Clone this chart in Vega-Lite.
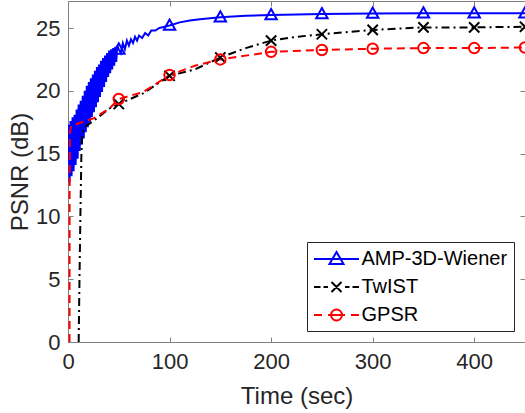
{
  "$schema": "https://vega.github.io/schema/vega-lite/v6.json",
  "width": 457,
  "height": 341,
  "autosize": {"type": "none"},
  "padding": {"left": 68, "top": 1, "right": 0, "bottom": 71},
  "background": "#ffffff",
  "config": {
    "view": {"stroke": null},
    "font": "Liberation Sans",
    "axis": {
      "grid": false,
      "domainColor": "#808080",
      "domainWidth": 1,
      "tickColor": "#808080",
      "tickSize": -5,
      "tickWidth": 1,
      "labelFont": "Liberation Sans",
      "labelFontSize": 22,
      "labelColor": "#262626",
      "labelFlush": false,
      "titleFont": "Liberation Sans",
      "titleFontSize": 24,
      "titleFontWeight": "normal",
      "titleColor": "#262626"
    }
  },
  "datasets": {
    "lines": [
      {"s": "AMP-3D-Wiener", "t": 0.5, "v": 17.3},
      {"s": "AMP-3D-Wiener", "t": 1.5, "v": 12.7},
      {"s": "AMP-3D-Wiener", "t": 2.5, "v": 17.6},
      {"s": "AMP-3D-Wiener", "t": 3.5, "v": 13.2},
      {"s": "AMP-3D-Wiener", "t": 4.5, "v": 17.9},
      {"s": "AMP-3D-Wiener", "t": 5.5, "v": 13.6},
      {"s": "AMP-3D-Wiener", "t": 6.5, "v": 18.1},
      {"s": "AMP-3D-Wiener", "t": 7.5, "v": 14.1},
      {"s": "AMP-3D-Wiener", "t": 8.5, "v": 18.5},
      {"s": "AMP-3D-Wiener", "t": 9.5, "v": 14.6},
      {"s": "AMP-3D-Wiener", "t": 10.5, "v": 18.9},
      {"s": "AMP-3D-Wiener", "t": 11.5, "v": 15.2},
      {"s": "AMP-3D-Wiener", "t": 12.5, "v": 19.2},
      {"s": "AMP-3D-Wiener", "t": 13.5, "v": 15.7},
      {"s": "AMP-3D-Wiener", "t": 14.5, "v": 19.6},
      {"s": "AMP-3D-Wiener", "t": 15.5, "v": 16.2},
      {"s": "AMP-3D-Wiener", "t": 16.5, "v": 20.0},
      {"s": "AMP-3D-Wiener", "t": 17.5, "v": 16.7},
      {"s": "AMP-3D-Wiener", "t": 18.5, "v": 20.4},
      {"s": "AMP-3D-Wiener", "t": 19.5, "v": 17.1},
      {"s": "AMP-3D-Wiener", "t": 20.5, "v": 20.7},
      {"s": "AMP-3D-Wiener", "t": 21.5, "v": 17.5},
      {"s": "AMP-3D-Wiener", "t": 22.5, "v": 21.0},
      {"s": "AMP-3D-Wiener", "t": 23.5, "v": 17.9},
      {"s": "AMP-3D-Wiener", "t": 24.5, "v": 21.3},
      {"s": "AMP-3D-Wiener", "t": 25.5, "v": 18.3},
      {"s": "AMP-3D-Wiener", "t": 26.5, "v": 21.6},
      {"s": "AMP-3D-Wiener", "t": 27.5, "v": 18.7},
      {"s": "AMP-3D-Wiener", "t": 28.5, "v": 21.9},
      {"s": "AMP-3D-Wiener", "t": 29.5, "v": 19.1},
      {"s": "AMP-3D-Wiener", "t": 30.5, "v": 22.1},
      {"s": "AMP-3D-Wiener", "t": 31.5, "v": 19.5},
      {"s": "AMP-3D-Wiener", "t": 32.5, "v": 22.4},
      {"s": "AMP-3D-Wiener", "t": 33.5, "v": 19.9},
      {"s": "AMP-3D-Wiener", "t": 34.5, "v": 22.6},
      {"s": "AMP-3D-Wiener", "t": 35.5, "v": 20.3},
      {"s": "AMP-3D-Wiener", "t": 36.5, "v": 22.8},
      {"s": "AMP-3D-Wiener", "t": 37.5, "v": 20.7},
      {"s": "AMP-3D-Wiener", "t": 38.5, "v": 23.0},
      {"s": "AMP-3D-Wiener", "t": 39.5, "v": 21.1},
      {"s": "AMP-3D-Wiener", "t": 40.5, "v": 23.2},
      {"s": "AMP-3D-Wiener", "t": 41.5, "v": 21.4},
      {"s": "AMP-3D-Wiener", "t": 42.5, "v": 23.3},
      {"s": "AMP-3D-Wiener", "t": 43.5, "v": 21.7},
      {"s": "AMP-3D-Wiener", "t": 44.5, "v": 23.4},
      {"s": "AMP-3D-Wiener", "t": 45.5, "v": 22.0},
      {"s": "AMP-3D-Wiener", "t": 46.5, "v": 23.5},
      {"s": "AMP-3D-Wiener", "t": 47.5, "v": 22.3},
      {"s": "AMP-3D-Wiener", "t": 48.5, "v": 23.6},
      {"s": "AMP-3D-Wiener", "t": 50, "v": 23.3},
      {"s": "AMP-3D-Wiener", "t": 52, "v": 23.0},
      {"s": "AMP-3D-Wiener", "t": 54, "v": 23.8},
      {"s": "AMP-3D-Wiener", "t": 56, "v": 23.3},
      {"s": "AMP-3D-Wiener", "t": 58, "v": 24.0},
      {"s": "AMP-3D-Wiener", "t": 60, "v": 23.6},
      {"s": "AMP-3D-Wiener", "t": 62, "v": 24.1},
      {"s": "AMP-3D-Wiener", "t": 64, "v": 23.8},
      {"s": "AMP-3D-Wiener", "t": 66, "v": 24.3},
      {"s": "AMP-3D-Wiener", "t": 68, "v": 24.0},
      {"s": "AMP-3D-Wiener", "t": 70, "v": 24.4},
      {"s": "AMP-3D-Wiener", "t": 73, "v": 24.2},
      {"s": "AMP-3D-Wiener", "t": 76, "v": 24.6},
      {"s": "AMP-3D-Wiener", "t": 79, "v": 24.4},
      {"s": "AMP-3D-Wiener", "t": 82, "v": 24.8},
      {"s": "AMP-3D-Wiener", "t": 86, "v": 24.8},
      {"s": "AMP-3D-Wiener", "t": 90, "v": 25.0},
      {"s": "AMP-3D-Wiener", "t": 95, "v": 25.1},
      {"s": "AMP-3D-Wiener", "t": 100, "v": 25.2},
      {"s": "AMP-3D-Wiener", "t": 110, "v": 25.45},
      {"s": "AMP-3D-Wiener", "t": 120, "v": 25.6},
      {"s": "AMP-3D-Wiener", "t": 130, "v": 25.7},
      {"s": "AMP-3D-Wiener", "t": 140, "v": 25.78},
      {"s": "AMP-3D-Wiener", "t": 150, "v": 25.85},
      {"s": "AMP-3D-Wiener", "t": 175, "v": 25.97},
      {"s": "AMP-3D-Wiener", "t": 200, "v": 26.04},
      {"s": "AMP-3D-Wiener", "t": 250, "v": 26.12},
      {"s": "AMP-3D-Wiener", "t": 300, "v": 26.15},
      {"s": "AMP-3D-Wiener", "t": 350, "v": 26.17},
      {"s": "AMP-3D-Wiener", "t": 400, "v": 26.18},
      {"s": "AMP-3D-Wiener", "t": 450, "v": 26.18},
      {"s": "TwIST", "t": 10.5, "v": 0},
      {"s": "TwIST", "t": 11.3, "v": 5},
      {"s": "TwIST", "t": 12.2, "v": 10},
      {"s": "TwIST", "t": 13.2, "v": 15},
      {"s": "TwIST", "t": 14, "v": 16.5},
      {"s": "TwIST", "t": 16, "v": 17.1},
      {"s": "TwIST", "t": 25, "v": 17.6},
      {"s": "TwIST", "t": 41, "v": 18.6},
      {"s": "TwIST", "t": 50, "v": 18.95},
      {"s": "TwIST", "t": 74, "v": 19.8},
      {"s": "TwIST", "t": 100, "v": 21.2},
      {"s": "TwIST", "t": 125, "v": 21.7},
      {"s": "TwIST", "t": 150, "v": 22.65},
      {"s": "TwIST", "t": 175, "v": 23.4},
      {"s": "TwIST", "t": 200, "v": 24.0},
      {"s": "TwIST", "t": 225, "v": 24.3},
      {"s": "TwIST", "t": 250, "v": 24.5},
      {"s": "TwIST", "t": 300, "v": 24.85},
      {"s": "TwIST", "t": 350, "v": 25.05},
      {"s": "TwIST", "t": 400, "v": 25.05},
      {"s": "TwIST", "t": 450, "v": 25.1},
      {"s": "GPSR", "t": 1.5, "v": 0},
      {"s": "GPSR", "t": 1.6, "v": 12},
      {"s": "GPSR", "t": 1.8, "v": 16.6},
      {"s": "GPSR", "t": 3, "v": 17.2},
      {"s": "GPSR", "t": 10, "v": 17.4},
      {"s": "GPSR", "t": 25, "v": 17.8},
      {"s": "GPSR", "t": 41, "v": 18.6},
      {"s": "GPSR", "t": 50, "v": 19.35},
      {"s": "GPSR", "t": 74, "v": 19.9},
      {"s": "GPSR", "t": 100, "v": 21.25},
      {"s": "GPSR", "t": 125, "v": 22.0},
      {"s": "GPSR", "t": 150, "v": 22.5},
      {"s": "GPSR", "t": 200, "v": 23.1},
      {"s": "GPSR", "t": 250, "v": 23.25},
      {"s": "GPSR", "t": 300, "v": 23.35},
      {"s": "GPSR", "t": 350, "v": 23.4},
      {"s": "GPSR", "t": 400, "v": 23.4},
      {"s": "GPSR", "t": 450, "v": 23.45}
    ],
    "markers": [
      {"s": "AMP-3D-Wiener", "t": 50, "v": 23.3},
      {"s": "AMP-3D-Wiener", "t": 100, "v": 25.2},
      {"s": "AMP-3D-Wiener", "t": 150, "v": 25.85},
      {"s": "AMP-3D-Wiener", "t": 200, "v": 26.04},
      {"s": "AMP-3D-Wiener", "t": 250, "v": 26.12},
      {"s": "AMP-3D-Wiener", "t": 300, "v": 26.15},
      {"s": "AMP-3D-Wiener", "t": 350, "v": 26.17},
      {"s": "AMP-3D-Wiener", "t": 400, "v": 26.18},
      {"s": "AMP-3D-Wiener", "t": 450, "v": 26.18},
      {"s": "TwIST", "t": 50, "v": 18.95},
      {"s": "TwIST", "t": 100, "v": 21.2},
      {"s": "TwIST", "t": 150, "v": 22.65},
      {"s": "TwIST", "t": 200, "v": 24.0},
      {"s": "TwIST", "t": 250, "v": 24.5},
      {"s": "TwIST", "t": 300, "v": 24.85},
      {"s": "TwIST", "t": 350, "v": 25.05},
      {"s": "TwIST", "t": 400, "v": 25.05},
      {"s": "TwIST", "t": 450, "v": 25.1},
      {"s": "GPSR", "t": 50, "v": 19.35},
      {"s": "GPSR", "t": 100, "v": 21.25},
      {"s": "GPSR", "t": 150, "v": 22.5},
      {"s": "GPSR", "t": 200, "v": 23.1},
      {"s": "GPSR", "t": 250, "v": 23.25},
      {"s": "GPSR", "t": 300, "v": 23.35},
      {"s": "GPSR", "t": 350, "v": 23.4},
      {"s": "GPSR", "t": 400, "v": 23.4},
      {"s": "GPSR", "t": 450, "v": 23.45}
    ]
  },
  "layer": [
    {
      "layer": [
        {
          "data": {"name": "markers"},
          "transform": [{"filter": "datum.t < 0"}],
          "mark": {"type": "point", "filled": false, "strokeWidth": 2, "opacity": 1},
          "encoding": {
            "x": {
              "field": "t", "type": "quantitative",
              "scale": {"domain": [0, 450], "nice": false, "zero": false},
              "axis": {"title": "Time (sec)", "values": [0, 100, 200, 300, 400], "labelPadding": 14, "titleY": 54, "titleBaseline": "middle"}
            },
            "y": {
              "field": "v", "type": "quantitative",
              "scale": {"domain": [0, 27.15], "nice": false},
              "axis": {"title": "PSNR (dB)", "values": [0, 5, 10, 15, 20, 25], "labelPadding": 13, "titleX": -48, "titleY": 170.5, "titleBaseline": "middle", "titleAlign": "center", "titleAngle": 270}
            },
            "color": {
              "field": "s", "type": "nominal",
              "scale": {"domain": ["AMP-3D-Wiener", "TwIST", "GPSR"], "range": ["#0000ff", "#000000", "#ff0000"]},
              "legend": {
                "orient": "none", "legendX": 239, "legendY": 241,
                "title": null,
                "labelFont": "Liberation Sans", "labelFontSize": 20, "labelColor": "#000000",
                "symbolSize": 400, "symbolStrokeWidth": 2,
                "symbolOffset": 12.5,
                "labelOffset": 14, "padding": 6, "rowPadding": 7,
                "strokeColor": "#262626", "fillColor": "#ffffff"
              }
            },
            "shape": {
              "field": "s", "type": "nominal",
              "scale": {
                "domain": ["AMP-3D-Wiener", "TwIST", "GPSR"],
                "range": [
                  "M-2.25,0H2.25M-0.7,0.5L0,-0.7L0.7,0.5Z",
                  "M-2.25,0H-1.6M-1.3,0H-0.85M-0.5,-0.5L0.5,0.5M-0.5,0.5L0.5,-0.5M0.85,0H1.3M1.6,0H2.25",
                  "M-2.25,0H-1.45M-0.85,0H0.85M1.45,0H2.25M0.55,0A0.55,0.55 0 1,1 -0.55,0A0.55,0.55 0 1,1 0.55,0Z"
                ]
              }
            }
          }
        },
        {
          "data": {"name": "lines"},
          "transform": [{"filter": "datum.s === 'AMP-3D-Wiener'"}],
          "mark": {"type": "line", "strokeWidth": 2, "clip": true},
          "encoding": {
            "x": {"field": "t", "type": "quantitative"},
            "y": {"field": "v", "type": "quantitative"},
            "color": {"field": "s", "type": "nominal"}
          }
        },
        {
          "data": {"name": "lines"},
          "transform": [{"filter": "datum.s === 'TwIST'"}],
          "mark": {"type": "line", "strokeWidth": 2, "strokeDash": [8, 4, 2, 4], "clip": true},
          "encoding": {
            "x": {"field": "t", "type": "quantitative"},
            "y": {"field": "v", "type": "quantitative"},
            "color": {"field": "s", "type": "nominal"}
          }
        },
        {
          "data": {"name": "lines"},
          "transform": [{"filter": "datum.s === 'GPSR'"}],
          "mark": {"type": "line", "strokeWidth": 2, "strokeDash": [8, 5], "clip": true},
          "encoding": {
            "x": {"field": "t", "type": "quantitative"},
            "y": {"field": "v", "type": "quantitative"},
            "color": {"field": "s", "type": "nominal"}
          }
        },
        {
          "data": {"name": "markers"},
          "transform": [{"filter": "datum.s === 'AMP-3D-Wiener'"}],
          "mark": {"type": "point", "filled": false, "strokeWidth": 2, "size": 130, "opacity": 1, "shape": "M-1,0.75L0,-1.05L1,0.75Z"},
          "encoding": {
            "x": {"field": "t", "type": "quantitative"},
            "y": {"field": "v", "type": "quantitative"},
            "color": {"field": "s", "type": "nominal"}
          }
        },
        {
          "data": {"name": "markers"},
          "transform": [{"filter": "datum.s === 'TwIST'"}],
          "mark": {"type": "point", "filled": false, "strokeWidth": 2, "size": 130, "opacity": 1, "shape": "M-0.9,-0.9L0.9,0.9M-0.9,0.9L0.9,-0.9"},
          "encoding": {
            "x": {"field": "t", "type": "quantitative"},
            "y": {"field": "v", "type": "quantitative"},
            "color": {"field": "s", "type": "nominal"}
          }
        },
        {
          "data": {"name": "markers"},
          "transform": [{"filter": "datum.s === 'GPSR'"}],
          "mark": {"type": "point", "filled": false, "strokeWidth": 2, "size": 110, "opacity": 1, "shape": "circle"},
          "encoding": {
            "x": {"field": "t", "type": "quantitative"},
            "y": {"field": "v", "type": "quantitative"},
            "color": {"field": "s", "type": "nominal"}
          }
        }
      ]
    },
    {
      "data": {"name": "markers"},
      "mark": {"type": "point", "opacity": 0},
      "encoding": {
        "x": {"field": "t", "type": "quantitative", "axis": {"orient": "top", "title": null, "labels": false, "values": [0, 100, 200, 300, 400]}},
        "y": {"field": "v", "type": "quantitative", "axis": {"orient": "right", "title": null, "labels": false, "domain": false, "values": [0, 5, 10, 15, 20, 25]}}
      }
    }
  ],
  "resolve": {"axis": {"x": "independent", "y": "independent"}}
}
